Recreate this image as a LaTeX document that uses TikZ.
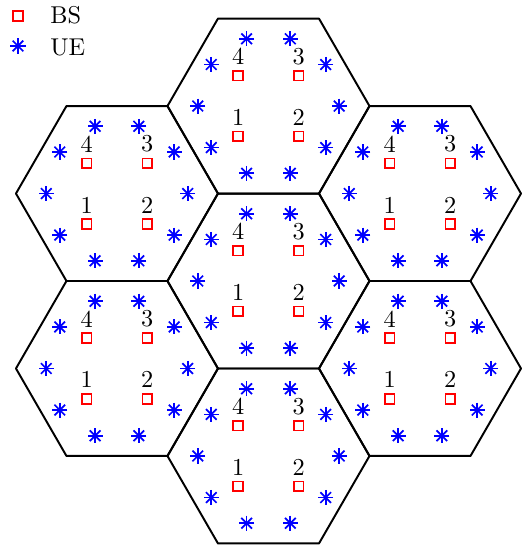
\documentclass[tikz,border=0pt]{standalone}
\usepackage{amsmath}
\usepackage{tikz}
\usetikzlibrary{positioning,calc}

\tikzset{
  cell/.style={draw=black, line width=0.8pt, line join=round},
  bs/.style={draw=red, line width=0.7pt, rectangle, minimum size=4pt, inner sep=0pt},
  ue/.style={circle, minimum size=7.8pt, inner sep=0pt,
    path picture={
      \foreach \a in {0,45,90,135}
        \draw[blue, line width=0.7pt]
          ($(path picture bounding box.center)+(\a:3.1pt)$) --
          ($(path picture bounding box.center)+(\a+180:3.1pt)$);
    }},
  bslabel/.style={inner sep=1.9pt}
}

\begin{document}
\begin{tikzpicture}[x=1.46cm, y=1.46cm]
    \useasboundingbox (-2.658,-2.663) rectangle (2.579,2.782);

    % Cell centres
    \coordinate (c1) at (0,0);
    \coordinate (c2) at (0,1.7321);
    \coordinate (c3) at (0,-1.7321);
    \coordinate (c4) at (-1.5,0.8660);
    \coordinate (c5) at (-1.5,-0.8660);
    \coordinate (c6) at (1.5,0.8660);
    \coordinate (c7) at (1.5,-0.8660);

    % Hexagonal cells
    \foreach \c in {1,...,7}
      \draw[cell] ($(c\c)+(0:1)$) -- ++(120:1) -- ++(180:1) -- ++(240:1) -- ++(300:1) -- ++(0:1) -- cycle;

    % Base stations (four per cell)
    \foreach \c in {1,...,7} {
      \node[bs, label={[bslabel]above:1}] (bs-\c-1) at ($(c\c)+(-0.3,-0.3)$) {};
      \node[bs, label={[bslabel]above:2}] (bs-\c-2) at ($(c\c)+(0.3,-0.3)$) {};
      \node[bs, label={[bslabel]above:3}] (bs-\c-3) at ($(c\c)+(0.3,0.3)$) {};
      \node[bs, label={[bslabel]above:4}] (bs-\c-4) at ($(c\c)+(-0.3,0.3)$) {};
    }

    % Users (ten per cell, on a ring)
    \foreach \c in {1,...,7}
      \foreach \k in {0,...,9}
        \node[ue] (ue-\c-\k) at ($(c\c)+(\k*36:0.7)$) {};

    % Legend
    \node[bs] (legbs) at (-2.480,2.624) {};
    \node[ue] (legue) at (-2.480,2.327) {};
    \node[anchor=base west, inner sep=0pt] (legbstext) at (-2.163,2.554) {BS};
    \node[anchor=base west, inner sep=0pt] (leguetext) at (-2.163,2.228) {UE};
\end{tikzpicture}
\end{document}
